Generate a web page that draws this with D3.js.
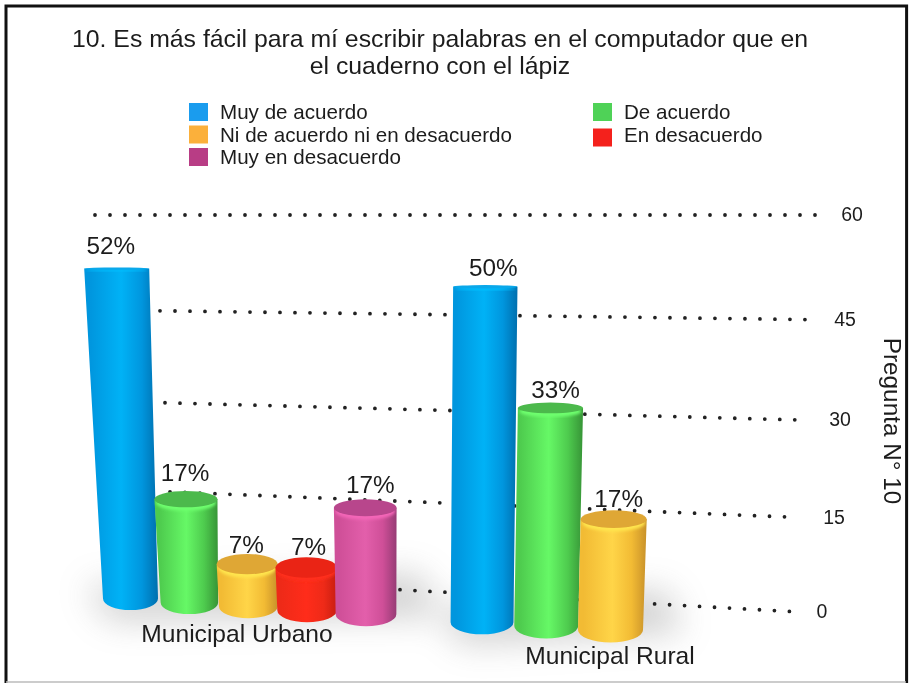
<!DOCTYPE html>
<html><head><meta charset="utf-8">
<script src="https://cdn.jsdelivr.net/npm/d3@7/dist/d3.min.js"></script>
<style>html,body{margin:0;padding:0;background:#fff}svg{display:block;filter:blur(0.4px)}text{font-family:"Liberation Sans",Arial,sans-serif;fill:#1c1c1c}</style>
</head><body><svg id="c" width="909" height="683"></svg>
<script>
const titleLines=["10. Es más fácil para mí escribir palabras en el computador que en","el cuaderno con el lápiz"];
const seriesNames=["Muy de acuerdo","De acuerdo","Ni de acuerdo ni en desacuerdo","En desacuerdo","Muy en desacuerdo"];
const categories=["Municipal Urbano","Municipal Rural"];
const urbanoValues=[52,17,7,7,17];
const ruralValues=[50,33,17];
const tickValues=[0,15,30,45,60];
const axisTitle="Pregunta N° 10";
const palette=[
 {l:"#0096de",m:"#00b2f6",r:"#006fae",t:"#0aa8ea",s:"#1a9cee"},
 {l:"#4ecb4e",m:"#66f866",r:"#379437",t:"#4cb94c",s:"#4fd257"},
 {l:"#f2bb34",m:"#ffd548",r:"#c8912a",t:"#dfa735",s:"#fbb03b"},
 {l:"#ee2a18",m:"#ff2c1a",r:"#c71d10",t:"#ea2415",s:"#f4211c"},
 {l:"#cf4f98",m:"#e35fab",r:"#973c75",t:"#b8468c",s:"#b83d85"}];

const svg=d3.select("#c");
const defs=svg.append("defs");
defs.append("filter").attr("id","soft").attr("x","-40%").attr("y","-80%").attr("width","180%").attr("height","260%")
  .append("feGaussianBlur").attr("stdDeviation",17);
defs.append("filter").attr("id","edge").append("feGaussianBlur").attr("stdDeviation",1.6);
palette.forEach((p,i)=>{
  const g=defs.append("linearGradient").attr("id","side"+i);
  [[0,p.l],[.08,p.l],[.5,p.m],[.78,p.l],[1,p.r]].forEach(([o,c])=>g.append("stop").attr("offset",o).attr("stop-color",c));
});

// frame
svg.append("path").attr("d","M6,683V6H906.6V683").attr("fill","none").attr("stroke","#111").attr("stroke-width",3);
svg.append("path").attr("d","M6,682H906").attr("fill","none").attr("stroke","#bbb").attr("stroke-width",1.5);

// title
svg.append("g").selectAll("text").data(titleLines).join("text")
 .attr("x",440).attr("y",(d,i)=>47+i*27).attr("text-anchor","middle").attr("font-size",24.8).text(d=>d);

// legend
const legCol=d3.scaleOrdinal().domain([0,1]).range([189,593]);
const legRowGroup=[0,0,1,1,2];
const legY=d3.scaleLinear().domain([0,2]).range([103,148]);
const lg=svg.append("g").selectAll("g").data(seriesNames).join("g")
 .attr("transform",(d,i)=>`translate(${legCol(i%2)},${legY(legRowGroup[i])+(i==3?3:0)})`);
lg.append("rect").attr("width",19).attr("height",18).attr("fill",(d,i)=>palette[i].s);
lg.append("text").attr("x",31).attr("y",(d,i)=>i==3?13:16).attr("font-size",20.6).text(d=>d);

// perspective grid
const gridAtLeft=d3.scaleLinear().domain(tickValues).range([573,489,401,310,215]);
const gridAtRight=d3.scaleLinear().domain(tickValues).range([612,517.5,420,319.5,215]);
const gridMix=d3.scaleLinear().domain([100,800]).range([0,1]);
const gridY=(v,x)=>{const t=gridMix(x);return gridAtLeft(v)*(1-t)+gridAtRight(v)*t;};
const gridStart=d3.scaleOrdinal().domain(tickValues).range([400,170,165,160,95]);
const gridEnd=d3.scaleOrdinal().domain(tickValues).range([794,789,799,811,821]);
const tickX=d3.scaleOrdinal().domain(tickValues).range([822,834,840,845,852]);

// floor shadow
const slotX=d3.scaleLinear().domain([0,4,6,8]).range([130.5,366,482,610.5]);
const baseY=d3.scaleLinear().domain([0,8]).range([598.5,630]);
const baseW=d3.scaleLinear().domain([0,1,8]).range([55,57.5,65]);
const topW=d3.scaleLinear().domain([0,2,8]).range([65,61,66]);
const unitA=d3.scaleLinear().domain([0,8]).range([5.85,6.36]);
const unitB=0.0095;
const barH=(v,s)=>v*(unitA(s)+unitB*v);
const ryAt=d3.scaleLinear().domain([230,626]).range([0,12]);
const vanishX=415;
const labelGap=d3.scaleOrdinal().domain([0,1,2,3,4,6,7,8]).range([15,18,11,13,15,11,10,12]);
const labelDx=d3.scaleOrdinal().domain([0,1,2,3,4,6,7,8]).range([-6,-1,-1,2,5,8,5,5]);

const groups=[{name:categories[0],vals:urbanoValues,slot0:0,lx:237,ly:642},{name:categories[1],vals:ruralValues,slot0:6,lx:610,ly:664}];
const shadow=svg.append("g").attr("filter","url(#soft)").attr("opacity",.34);
groups.forEach(g=>{
  const a=slotX(g.slot0),b=slotX(g.slot0+g.vals.length-1);
  shadow.append("path").attr("fill","#777")
   .attr("d",d3.line()([[a-45,baseY(g.slot0)-12],[b+55,baseY(g.slot0+g.vals.length-1)-40],[b+72,baseY(g.slot0+g.vals.length-1)+2],[a-20,baseY(g.slot0)+22]])+"Z");
});

// grid lines
svg.append("g").selectAll("path").data(tickValues).join("path")
 .attr("d",v=>d3.line()([[gridStart(v),gridY(v,gridStart(v))],[gridEnd(v),gridY(v,gridEnd(v))]]))
 .attr("fill","none").attr("stroke","#222").attr("stroke-width",3.8).attr("stroke-linecap","round").attr("stroke-dasharray","0 15");
svg.append("g").selectAll("text").data(tickValues).join("text")
 .attr("x",v=>tickX(v)).attr("y",v=>gridY(v,800)+6).attr("text-anchor","middle").attr("font-size",19.5).text(d=>d);

// bars
const bars=[];
groups.forEach(g=>g.vals.forEach((v,i)=>bars.push({v,i,slot:g.slot0+i})));
const bg=svg.append("g").selectAll("g").data(bars).join("g");
bg.each(function(d){
  const s=d.slot,cx=slotX(s),by=baseY(s),h=barH(d.v,s),ty=by-h;
  const bw=baseW(s)/2,tw=topW(s)/2,ctx=cx+(cx-vanishX)*.05*h/340;
  const rb=ryAt(by+12),rt=ryAt(ty);
  const p=palette[d.i],n=d3.select(this);
  n.append("path").attr("fill",`url(#side${d.i})`)
   .attr("d",`M${ctx-tw},${ty}L${cx-bw},${by}A${bw},${rb} 0 0 0 ${cx+bw},${by}L${ctx+tw},${ty}Z`);
  n.append("ellipse").attr("cx",ctx).attr("cy",ty+Math.min(3.5,rt*.5+1)).attr("rx",tw-1.5).attr("ry",rt).attr("fill",d3.color(p.m).brighter(.2)).attr("filter","url(#edge)");
  n.append("ellipse").attr("cx",ctx).attr("cy",ty).attr("rx",tw).attr("ry",rt).attr("fill",p.t);
  n.append("text").attr("x",ctx+labelDx(s)).attr("y",ty-labelGap(s)).attr("text-anchor","middle").attr("font-size",24.3).text(d.v+"%");
});

// category labels
svg.append("g").selectAll("text").data(groups).join("text")
 .attr("x",d=>d.lx).attr("y",d=>d.ly).attr("text-anchor","middle").attr("font-size",24.6).text(d=>d.name);

// axis title
svg.append("text").attr("transform","translate(884,421) rotate(90)").attr("text-anchor","middle").attr("font-size",24.3).text(axisTitle);
</script></body></html>
